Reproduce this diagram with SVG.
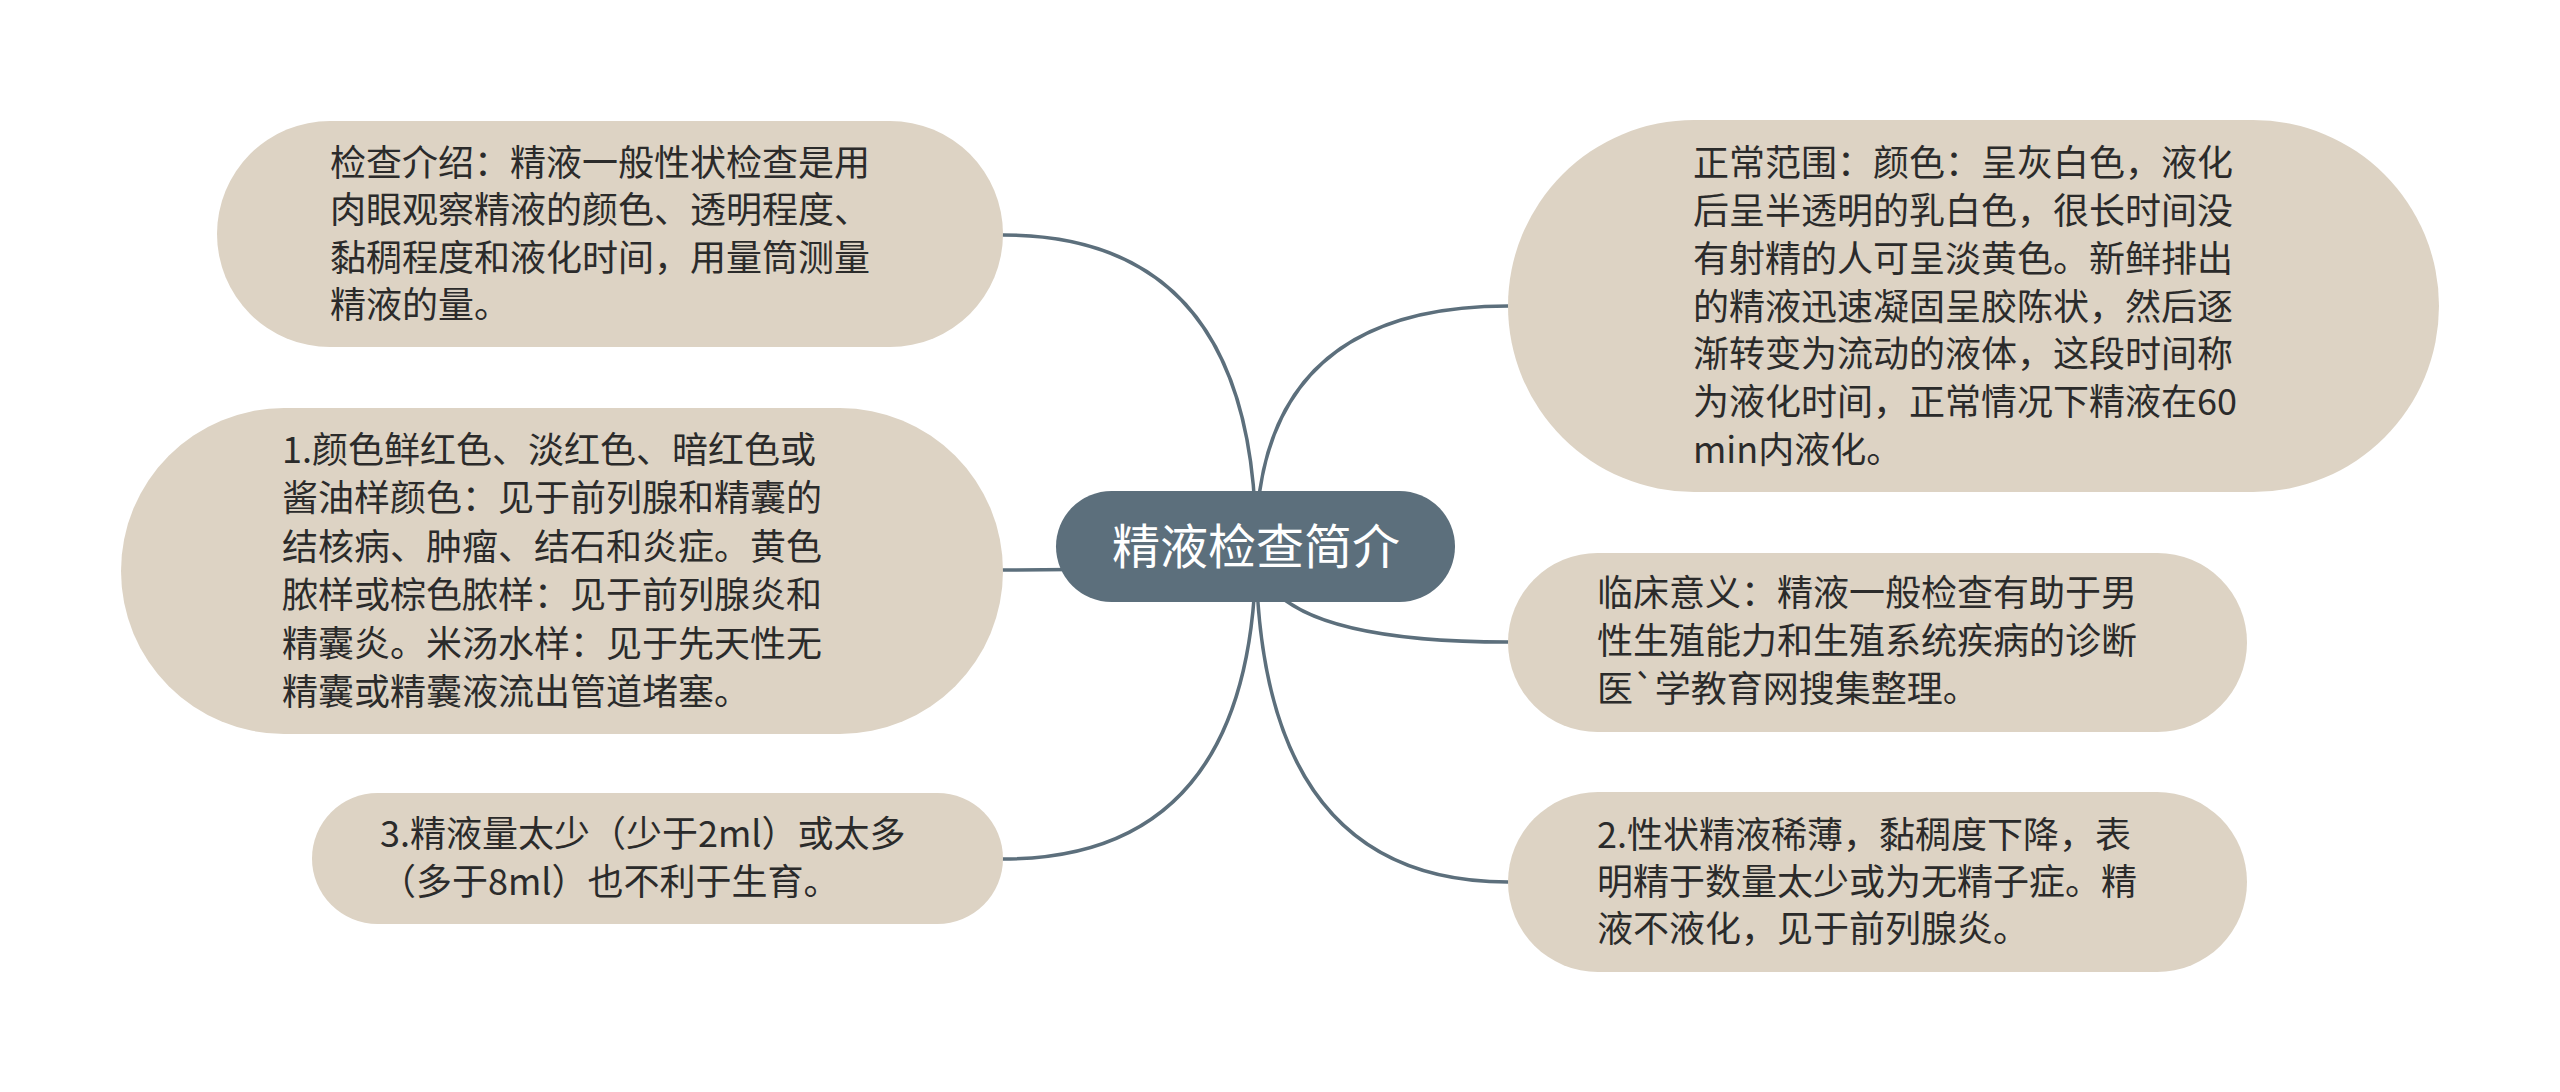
<svg xmlns="http://www.w3.org/2000/svg" width="2560" height="1092" viewBox="0 0 2560 1092">
<style>
.bg{fill:#ffffff}
.edge{fill:none;stroke:#5c6f7c;stroke-width:3.5;stroke-linecap:round}
.box{fill:#ddd3c4}
.root{fill:#5c6f7c}
.t{font-family:"Noto Sans CJK SC","Noto Sans",sans-serif;font-size:36px;fill:#2b2b2b}
.rt{font-family:"Noto Sans CJK SC","Noto Sans",sans-serif;font-size:48px;fill:#ffffff;text-anchor:middle}
</style>
<rect class="bg" x="0" y="0" width="2560" height="1092"/>
<g id="connectors">
<path class="edge" d="M1256,546 Q1256,235 1003,235"/>
<path class="edge" d="M1256,546 Q1256,570 1003,570"/>
<path class="edge" d="M1256,546 Q1256,859 1003,859"/>
<path class="edge" d="M1256,546 Q1256,306 1508,306"/>
<path class="edge" d="M1256,546 Q1256,642 1508,642"/>
<path class="edge" d="M1256,546 Q1256,882 1508,882"/>
</g>
<g id="root">
<rect class="root" x="1056" y="491" width="399" height="111" rx="55.5"/>
<text class="rt" x="1256" y="564">精液检查简介</text>
</g>
<g id="node-intro">
<rect class="box" x="217" y="121" width="786" height="226" rx="113"/>
<text class="t"><tspan x="330" y="176">检查介绍：精液一般性状检查是用</tspan><tspan x="330" y="223">肉眼观察精液的颜色、透明程度、</tspan><tspan x="330" y="271">黏稠程度和液化时间，用量筒测量</tspan><tspan x="330" y="318">精液的量。</tspan></text>
</g>
<g id="node-color">
<rect class="box" x="121" y="408" width="882" height="326" rx="163"/>
<text class="t"><tspan x="282" y="463">1.颜色鲜红色、淡红色、暗红色或</tspan><tspan x="282" y="511">酱油样颜色：见于前列腺和精囊的</tspan><tspan x="282" y="560">结核病、肿瘤、结石和炎症。黄色</tspan><tspan x="282" y="608">脓样或棕色脓样：见于前列腺炎和</tspan><tspan x="282" y="657">精囊炎。米汤水样：见于先天性无</tspan><tspan x="282" y="705">精囊或精囊液流出管道堵塞。</tspan></text>
</g>
<g id="node-volume">
<rect class="box" x="312" y="793" width="691" height="131" rx="65.5"/>
<text class="t"><tspan x="380" y="847">3.精液量太少（少于2ml）或太多</tspan><tspan x="380" y="895">（多于8ml）也不利于生育。</tspan></text>
</g>
<g id="node-normal">
<rect class="box" x="1508" y="120" width="931" height="372" rx="186"/>
<text class="t"><tspan x="1693" y="176">正常范围：颜色：呈灰白色，液化</tspan><tspan x="1693" y="224">后呈半透明的乳白色，很长时间没</tspan><tspan x="1693" y="272">有射精的人可呈淡黄色。新鲜排出</tspan><tspan x="1693" y="320">的精液迅速凝固呈胶陈状，然后逐</tspan><tspan x="1693" y="367">渐转变为流动的液体，这段时间称</tspan><tspan x="1693" y="415">为液化时间，正常情况下精液在60</tspan><tspan x="1693" y="463">min内液化。</tspan></text>
</g>
<g id="node-clinical">
<rect class="box" x="1508" y="553" width="739" height="179" rx="89.5"/>
<text class="t"><tspan x="1597" y="606">临床意义：精液一般检查有助于男</tspan><tspan x="1597" y="654">性生殖能力和生殖系统疾病的诊断</tspan><tspan x="1597" y="702">医`学教育网搜集整理。</tspan></text>
</g>
<g id="node-thin">
<rect class="box" x="1508" y="792" width="739" height="180" rx="90"/>
<text class="t"><tspan x="1597" y="848">2.性状精液稀薄，黏稠度下降，表</tspan><tspan x="1597" y="895">明精于数量太少或为无精子症。精</tspan><tspan x="1597" y="942">液不液化，见于前列腺炎。</tspan></text>
</g>
</svg>
